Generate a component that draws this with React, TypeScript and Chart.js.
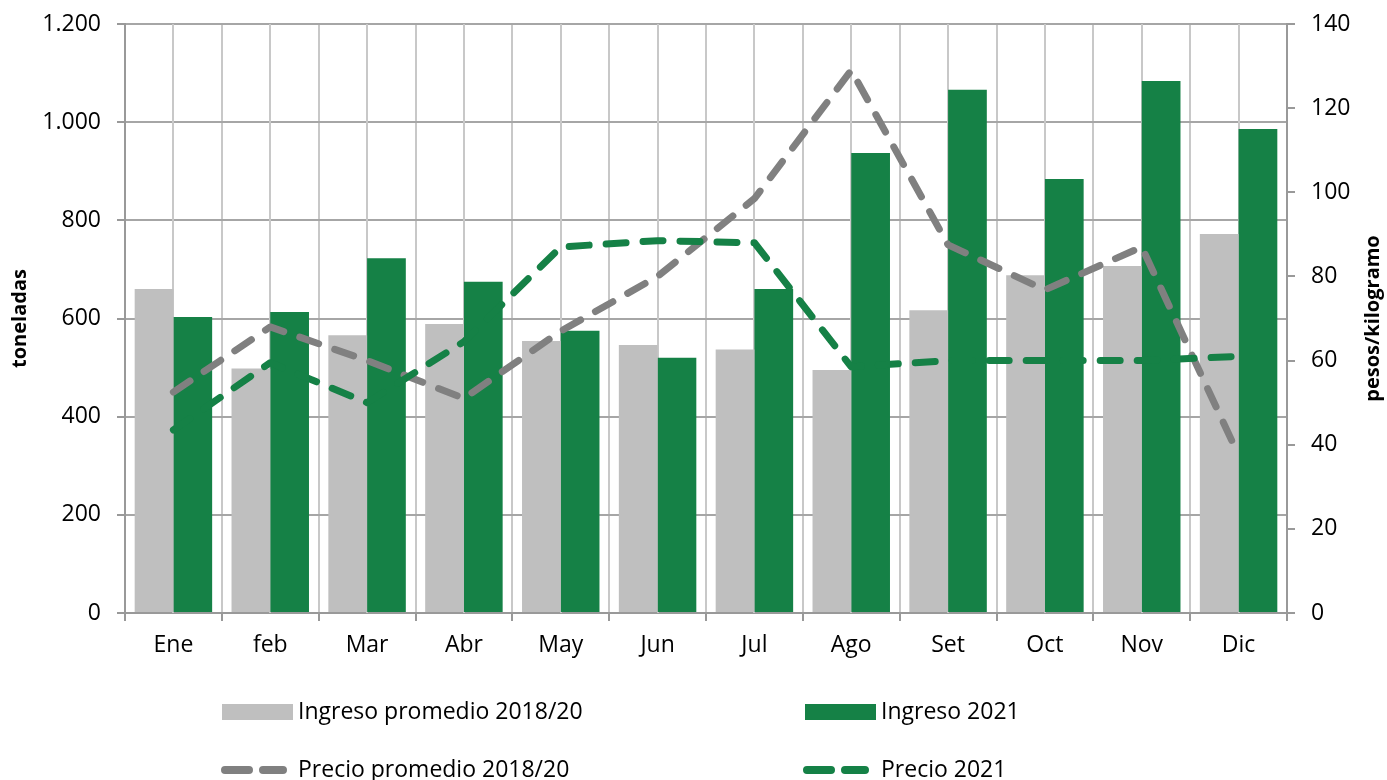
import React, { useEffect, useRef } from "react";
import { Chart, registerables } from "chart.js";

Chart.register(...registerables);

const months = ["Ene", "feb", "Mar", "Abr", "May", "Jun", "Jul", "Ago", "Set", "Oct", "Nov", "Dic"];
const ingresoPromedio = [660, 498, 566, 589, 554, 546, 537, 495, 617, 688, 707, 772];
const ingreso2021 = [603, 613, 723, 675, 575, 520, 660, 937, 1066, 884, 1084, 986];
const precioPromedio = [52.5, 68, 60, 51, 67, 80, 98.5, 129, 87.5, 76.8, 87, 37.5];
const precio2021 = [43.5, 59.5, 50, 64.5, 87, 88.5, 88, 58.5, 60, 60, 60, 61];
const leftTicks = [0, 200, 400, 600, 800, 1000, 1200];
const rightTicks = [0, 20, 40, 60, 80, 100, 120, 140];

const GRAY_BAR = "#BFBFBF";
const GREEN = "#158146";
const GRAY_LINE = "#808080";
const FONT = "'Open Sans', 'Noto Sans', sans-serif";

const fmt = (v: number) => v.toLocaleString("de-DE");

export default function App() {
  const ref = useRef<HTMLCanvasElement | null>(null);

  useEffect(() => {
    document.body.style.margin = "0";
    const canvas = ref.current!;

    const centerLines = {
      id: "centerLines",
      beforeDatasetsDraw(chart: any) {
        const { ctx, chartArea, scales } = chart;
        ctx.save();
        ctx.strokeStyle = "#C8C8C8";
        ctx.lineWidth = 2;
        months.forEach((_, i) => {
          const x = Math.round(scales.x.getPixelForValue(i));
          ctx.beginPath();
          ctx.moveTo(x, chartArea.top);
          ctx.lineTo(x, chartArea.bottom);
          ctx.stroke();
        });
        ctx.restore();
      },
    };

    const extras = {
      id: "extras",
      afterDraw(chart: any) {
        const { ctx, chartArea } = chart;
        ctx.save();
        ctx.font = `bold 20px ${FONT}`;
        ctx.fillStyle = "#000";
        ctx.textAlign = "center";
        ctx.textBaseline = "middle";
        ctx.translate(1373, (chartArea.top + chartArea.bottom) / 2);
        ctx.rotate(-Math.PI / 2);
        ctx.fillText("pesos/kilogramo", 0, 0);
        ctx.restore();

        ctx.save();
        ctx.font = `23px ${FONT}`;
        ctx.textAlign = "left";
        ctx.textBaseline = "middle";
        const r1 = 712;
        const r2 = 770;
        ctx.fillStyle = GRAY_BAR;
        ctx.fillRect(222, 704, 71, 16);
        ctx.fillStyle = GREEN;
        ctx.fillRect(805, 704, 71, 16);
        ctx.fillStyle = "#000";
        ctx.fillText("Ingreso promedio 2018/20", 298, r1);
        ctx.fillText("Ingreso 2021", 881, r1);
        ctx.fillText("Precio promedio 2018/20", 298, r2);
        ctx.fillText("Precio 2021", 881, r2);
        ctx.lineCap = "round";
        ctx.lineWidth = 8;
        const dashes = (x0: number, color: string) => {
          ctx.strokeStyle = color;
          ctx.beginPath();
          ctx.moveTo(x0 + 4, r2);
          ctx.lineTo(x0 + 28, r2);
          ctx.moveTo(x0 + 42, r2);
          ctx.lineTo(x0 + 62, r2);
          ctx.stroke();
        };
        dashes(221, GRAY_LINE);
        dashes(803, GREEN);
        ctx.restore();
      },
    };

    const noPad = (s: any) => {
      s.paddingTop = 0;
      s.paddingBottom = 0;
    };

    const chart = new Chart(canvas, {
      type: "bar",
      data: {
        labels: months,
        datasets: [
          {
            type: "line",
            label: "Precio 2021",
            data: precio2021,
            yAxisID: "y1",
            borderColor: GREEN,
            backgroundColor: GREEN,
            borderWidth: 7,
            borderDash: [20, 17],
            borderCapStyle: "round",
            borderJoinStyle: "round",
            pointRadius: 0,
            tension: 0,
            order: 0,
          },
          {
            type: "line",
            label: "Precio promedio 2018/20",
            data: precioPromedio,
            yAxisID: "y1",
            borderColor: GRAY_LINE,
            backgroundColor: GRAY_LINE,
            borderWidth: 7,
            borderDash: [20, 17],
            borderCapStyle: "round",
            borderJoinStyle: "round",
            pointRadius: 0,
            tension: 0,
            order: 1,
          },
          {
            label: "Ingreso promedio 2018/20",
            data: ingresoPromedio,
            yAxisID: "y",
            backgroundColor: GRAY_BAR,
            categoryPercentage: 0.8,
            barPercentage: 1.0,
            order: 2,
          },
          {
            label: "Ingreso 2021",
            data: ingreso2021,
            yAxisID: "y",
            backgroundColor: GREEN,
            categoryPercentage: 0.8,
            barPercentage: 1.0,
            order: 2,
          },
        ] as any,
      },
      plugins: [centerLines, extras],
      options: {
        responsive: false,
        animation: false,
        layout: { padding: { top: 24, left: 0, right: 0, bottom: 0 } },
        plugins: {
          legend: { display: false },
          tooltip: { enabled: false },
          title: { display: false },
        },
        scales: {
          x: {
            type: "category",
            position: "bottom",
            offset: true,
            grid: {
              offset: true,
              color: "#C8C8C8",
              lineWidth: 2,
              tickLength: 8,
              tickColor: "#999999",
            },
            border: { color: "#999999", width: 2 },
            ticks: { font: { family: FONT, size: 23 }, color: "#000", padding: 11, maxRotation: 0 },
            afterFit: (s: any) => {
              s.height = 167;
            },
          },
          y: {
            type: "linear",
            position: "left",
            min: 0,
            max: 1200,
            afterBuildTicks: (s: any) => {
              s.ticks = leftTicks.map((v) => ({ value: v }));
            },
            grid: { color: "#A6A6A6", lineWidth: 2, tickLength: 8, tickColor: "#999999" },
            border: { color: "#999999", width: 2 },
            ticks: {
              font: { family: FONT, size: 23 },
              color: "#000",
              padding: 16,
              callback: (v: any) => fmt(Number(v)),
            },
            title: {
              display: true,
              text: "toneladas",
              font: { family: FONT, size: 20, weight: "bold" },
              color: "#000",
              padding: { top: 8, bottom: 0 },
            },
            afterFit: (s: any) => {
              s.width = 125;
              noPad(s);
            },
          },
          y1: {
            type: "linear",
            position: "right",
            min: 0,
            max: 140,
            afterBuildTicks: (s: any) => {
              s.ticks = rightTicks.map((v) => ({ value: v }));
            },
            grid: { drawOnChartArea: false, tickLength: 8, tickColor: "#999999", lineWidth: 2 },
            border: { color: "#999999", width: 2 },
            ticks: { font: { family: FONT, size: 23 }, color: "#000", padding: 16 },
            afterFit: (s: any) => {
              s.width = 100;
              noPad(s);
            },
          },
        },
      } as any,
    });

    return () => chart.destroy();
  }, []);

  return (
    <div style={{ position: "absolute", left: 0, top: 0, width: 1387, height: 780, background: "#fff" }}>
      <canvas ref={ref} width={1387} height={780} />
    </div>
  );
}
